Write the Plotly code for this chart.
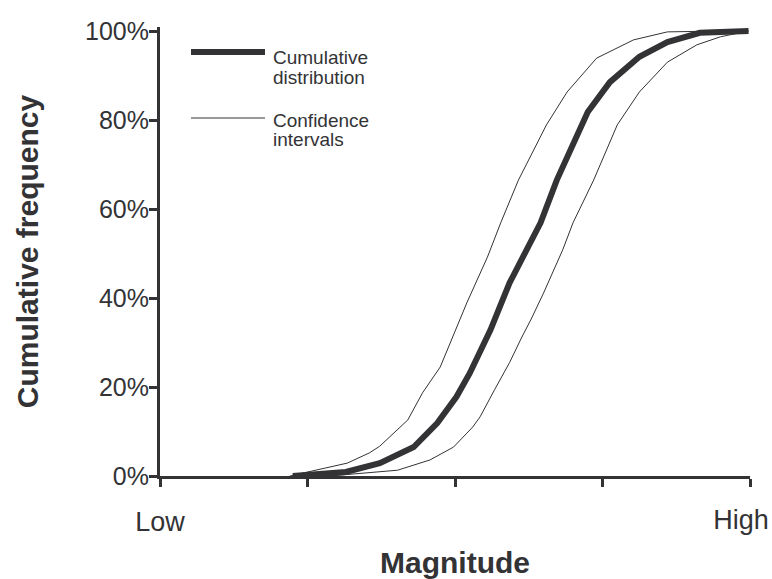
import plotly.graph_objects as go

# ---- data (magnitude in axis units 0..4 ; cumulative frequency in %) ----
cdf_x = [0.90, 1.26, 1.49, 1.72, 1.88, 2.01, 2.10, 2.17, 2.24, 2.37, 2.46, 2.58,
         2.69, 2.90, 3.05, 3.25, 3.44, 3.66, 3.99]
cdf_y = [0.0, 0.9, 2.9, 6.5, 11.9, 17.8, 23.1, 28.3, 32.8, 43.4, 49.2, 56.9,
         66.5, 81.8, 88.5, 94.2, 97.5, 99.6, 100.0]

upper_x = [0.88, 1.00, 1.27, 1.42, 1.49, 1.68, 1.78, 1.90, 1.99, 2.08, 2.22, 2.31,
           2.43, 2.62, 2.76, 2.96, 3.21, 3.44, 3.80, 3.99]
upper_y = [0.0, 0.9, 2.9, 5.2, 6.7, 12.6, 18.7, 24.5, 31.7, 38.9, 49.2, 56.9,
           66.5, 78.9, 86.3, 93.9, 98.0, 99.8, 100.0, 100.0]

lower_x = [1.15, 1.38, 1.61, 1.83, 1.99, 2.12, 2.17, 2.27, 2.37, 2.45, 2.52, 2.60,
           2.73, 2.80, 2.94, 3.10, 3.25, 3.44, 3.64, 3.80, 3.99]
lower_y = [0.0, 0.7, 1.3, 3.6, 6.5, 11.0, 13.3, 19.5, 25.5, 31.0, 35.5, 41.1,
           50.8, 56.9, 66.5, 78.9, 86.3, 93.0, 96.9, 98.7, 100.0]

x_tickvals = [0, 1, 2, 3, 4]
x_ticktext = ["Low", "", "", "", ""]
x_end_tickvals = [4]
x_end_ticktext = ["High"]
y_tickvals = [0, 20, 40, 60, 80, 100]
y_ticktext = ["0%", "20%", "40%", "60%", "80%", "100%"]

legend_labels = [["Cumulative", "distribution"], ["Confidence", "intervals"]]

# ---- style ----
INK = "#333336"
FONT = "Liberation Sans, Arial, Helvetica, sans-serif"
W, H = 772, 579
ML, MR, MT, MB = 160, 22, 27, 103
YMAX = 100.9
XRANGE = [0, 4]


def px_x(px):
    return (px - ML) / (W - ML - MR)


def px_y(py):
    return (H - MB - py) / (H - MT - MB)


fig = go.Figure()
fig.add_trace(go.Scatter(x=upper_x, y=upper_y, mode="lines", xaxis="x2",
                         line=dict(color=INK, width=1), showlegend=False,
                         name="Confidence intervals"))
fig.add_trace(go.Scatter(x=lower_x, y=lower_y, mode="lines",
                         line=dict(color=INK, width=1), showlegend=False,
                         name="Confidence intervals"))
fig.add_trace(go.Scatter(x=cdf_x, y=cdf_y, mode="lines",
                         line=dict(color=INK, width=6), showlegend=False,
                         name="Cumulative distribution"))

# legend drawn as shapes + text
legend_rows = [(52, 6, 57, 77), (118, 1, 120, 139)]
for (ly, lw, t1, t2), labels in zip(legend_rows, legend_labels):
    fig.add_shape(type="line", xref="paper", yref="paper",
                  x0=px_x(191), x1=px_x(265), y0=px_y(ly), y1=px_y(ly),
                  line=dict(color=INK, width=lw))
    for ty, txt in zip((t1, t2), labels):
        fig.add_annotation(xref="paper", yref="paper", x=px_x(272), y=px_y(ty),
                           text=txt, showarrow=False, xanchor="left",
                           yanchor="middle", height=17, valign="middle",
                           borderpad=0,
                           font=dict(family=FONT, size=19, color=INK))

fig.update_layout(
    width=W, height=H,
    margin=dict(l=ML, r=MR, t=MT, b=MB, pad=0),
    paper_bgcolor="white", plot_bgcolor="white",
    font=dict(family=FONT, color=INK),
    showlegend=False,
    xaxis=dict(
        range=XRANGE, tickvals=x_tickvals, ticktext=x_ticktext,
        showline=True, linecolor=INK, linewidth=3,
        ticks="outside", ticklen=8, tickwidth=3, tickcolor=INK,
        showgrid=False, zeroline=False, automargin=False,
        tickfont=dict(family=FONT, size=27, color=INK),
        ticklabelstandoff=12,
        title=dict(text="<b>Magnitude</b>",
                   font=dict(family=FONT, size=30, color=INK), standoff=22),
    ),
    xaxis2=dict(
        overlaying="x", side="bottom", range=XRANGE,
        tickvals=x_end_tickvals, ticktext=x_end_ticktext,
        showline=False, ticks="outside", ticklen=8, tickwidth=0,
        tickcolor="rgba(0,0,0,0)",
        showgrid=False, zeroline=False, automargin=False,
        tickfont=dict(family=FONT, size=27, color=INK),
        ticklabelstandoff=12, ticklabelshift=-9, ticklabeloverflow="allow",
    ),
    yaxis=dict(
        range=[0, YMAX], tickvals=y_tickvals, ticktext=y_ticktext,
        showline=True, linecolor=INK, linewidth=3,
        ticks="outside", ticklen=8, tickwidth=3, tickcolor=INK,
        showgrid=False, zeroline=False, automargin=False,
        tickfont=dict(family=FONT, size=25, color=INK),
        ticklabelstandoff=-5,
        title=dict(text="<b>Cumulative frequency</b>",
                   font=dict(family=FONT, size=30, color=INK), standoff=38),
    ),
)

fig.write_html("out.html")
